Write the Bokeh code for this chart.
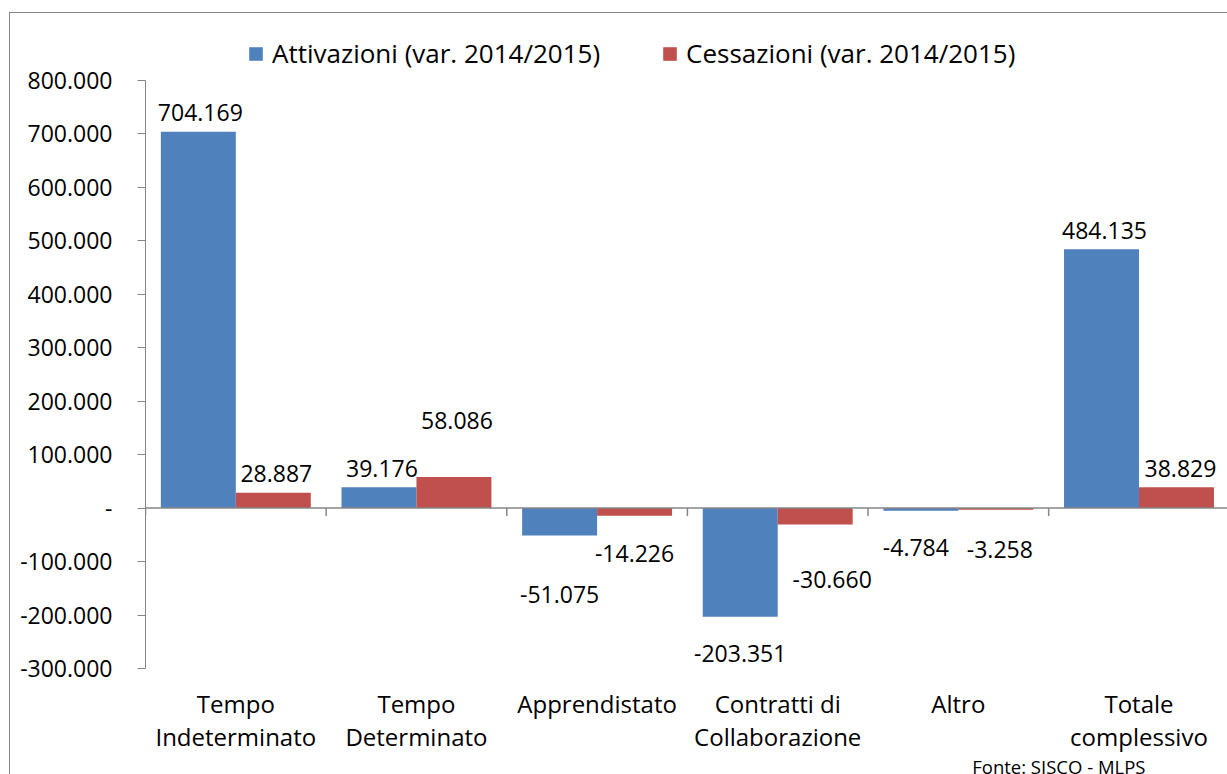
from bokeh.plotting import figure
from bokeh.models import (Range1d, FixedTicker, Legend, LegendItem, LinearAxis,
                          ColumnDataSource, Span, InlineStyleSheet, Title)
from bokeh.core.properties import value
from bokeh.transform import dodge
from bokeh.embed import file_html
from bokeh.resources import INLINE

# ---------------- data ----------------
categories = ["Tempo\nIndeterminato", "Tempo\nDeterminato", "Apprendistato",
              "Contratti di\nCollaborazione", "Altro", "Totale\ncomplessivo"]
attivazioni = [704169, 39176, -51075, -203351, -4784, 484135]
cessazioni = [28887, 58086, -14226, -30660, -3258, 38829]
series_names = ["Attivazioni (var. 2014/2015)", "Cessazioni (var. 2014/2015)"]
y_ticks = [-300000, -200000, -100000, 0, 100000, 200000, 300000, 400000,
           500000, 600000, 700000, 800000]
y_tick_labels = ["-300.000", "-200.000", "-100.000", "-", "100.000", "200.000",
                 "300.000", "400.000", "500.000", "600.000", "700.000", "800.000"]
source_note = "Fonte: SISCO - MLPS"

# ---------------- style ----------------
FONT = "Open Sans"
BLUE = "#4F81BD"
RED = "#C0504D"
GRAY = "#868686"

W, H = 1227, 774
FRAME_LEFT, FRAME_TOP, FRAME_BOTTOM = 145, 20, 669
AXIS_TOP = 80            # pixel row of the 800.000 tick
X_END = 5.99
Y0, Y1 = -300000, 800000
px_per_y = (FRAME_BOTTOM - AXIS_TOP) / (Y1 - Y0)
Y_END = Y1 + (AXIS_TOP - FRAME_TOP) / px_per_y

# data-label pixel nudges (screen px, y positive = down)
att_dx = [2, 3, 0, 0, -5, 3]
att_dy = [-19, -19, 59, 37, 37, -19]
ces_dx = [3, 3, 0, 17, 4, 4]
ces_dy = [-19, -57, 38, 55, 40, -19]


def fmt(v):
    s = f"{abs(v):,}".replace(",", ".")
    return ("-" if v < 0 else "") + s


xs = [i + 0.5 for i in range(len(categories))]
src = ColumnDataSource(dict(
    x=xs, att=attivazioni, ces=cessazioni,
    att_lbl=[fmt(v) for v in attivazioni], ces_lbl=[fmt(v) for v in cessazioni],
    att_dx=att_dx, att_dy=att_dy, ces_dx=ces_dx, ces_dy=ces_dy,
))

p = figure(width=W, height=H,
           x_range=Range1d(0, X_END), y_range=Range1d(Y0, Y_END),
           output_backend="svg", toolbar_location=None,
           x_axis_location=None, y_axis_location="left",
           min_border_left=FRAME_LEFT, min_border_right=0,
           min_border_top=FRAME_TOP, min_border_bottom=H - FRAME_BOTTOM)
p.xgrid.visible = False
p.ygrid.visible = False
p.outline_line_color = None
p.background_fill_color = "white"
p.border_fill_color = "white"
p.title.visible = False

# outer chart border (left and top edges, as in the clipped Excel chart)
p.stylesheets = [InlineStyleSheet(css="""
:host::after {
  content: "";
  position: absolute;
  left: 9px; top: 12px; right: -4px; bottom: 0px;
  border-left: 1.5px solid #868686;
  border-top: 1.5px solid #868686;
  pointer-events: none;
  z-index: 100;
}
""")]

# y axis (line limited to the tick range)
ya = p.yaxis[0]
ya.bounds = (Y0, Y1)
ya.ticker = FixedTicker(ticks=y_ticks)
ya.major_label_overrides = {t: l for t, l in zip(y_ticks, y_tick_labels)}
ya.major_label_text_font = FONT
ya.major_label_text_font_size = "23px"
ya.major_label_text_color = "black"
ya.axis_line_color = GRAY
ya.major_tick_line_color = GRAY
ya.major_tick_out = 8
ya.major_tick_in = 0
ya.minor_tick_out = 0
ya.minor_tick_in = 0
ya.major_label_standoff = 25

# category labels axis (bottom, no line)
cat_axis = LinearAxis(ticker=FixedTicker(ticks=xs),
                      major_label_overrides={x: c for x, c in zip(xs, categories)},
                      axis_line_color=None, major_tick_line_color=None,
                      major_tick_out=0, major_tick_in=0,
                      minor_tick_out=0, minor_tick_in=0,
                      major_label_standoff=18,
                      major_label_text_font=FONT,
                      major_label_text_font_size="24px",
                      major_label_text_line_height=1.0,
                      major_label_text_color="black")
p.add_layout(cat_axis, "below")

# source note under the category labels, right-aligned
note = Title(text=source_note, align="right", offset=82, standoff=-8,
             text_font=FONT, text_font_size="18.5px", text_font_style="normal",
             text_color="black", text_line_height=0.8)
p.add_layout(note, "below")

# zero line with category separator ticks
p.add_layout(Span(location=0, dimension="width", line_color=GRAY, line_width=1.5))
tick_len = 8 / px_per_y
bounds = list(range(len(categories) + 1))
p.segment(x0=bounds, x1=bounds, y0=[0] * len(bounds), y1=[-tick_len] * len(bounds),
          line_color=GRAY, line_width=1.5)

# bars
r1 = p.vbar(x=dodge("x", -0.2075, range=p.x_range), top="att", width=0.415,
            source=src, fill_color=BLUE, line_color=None)
r2 = p.vbar(x=dodge("x", 0.2075, range=p.x_range), top="ces", width=0.415,
            source=src, fill_color=RED, line_color=None)

# data labels
p.text(x=dodge("x", -0.2075, range=p.x_range), y="att", text="att_lbl",
       x_offset="att_dx", y_offset="att_dy", source=src,
       text_align="center", text_baseline="alphabetic",
       text_font=value(FONT), text_font_size="23px", text_color="black")
p.text(x=dodge("x", 0.2075, range=p.x_range), y="ces", text="ces_lbl",
       x_offset="ces_dx", y_offset="ces_dy", source=src,
       text_align="center", text_baseline="alphabetic",
       text_font=value(FONT), text_font_size="23px", text_color="black")

# legend (top of the chart, inside the enlarged frame)
legend = Legend(items=[LegendItem(label=series_names[0], renderers=[r1]),
                       LegendItem(label=series_names[1], renderers=[r2])],
                location=(247 - FRAME_LEFT, FRAME_BOTTOM - 54 - 18),
                orientation="horizontal",
                glyph_width=17, glyph_height=17, label_standoff=8, spacing=61,
                padding=0, margin=0, border_line_color=None,
                background_fill_alpha=0,
                label_text_font=FONT, label_text_font_size="26px",
                label_text_color="black")
p.add_layout(legend, "center")

open("out.html", "w").write(file_html(p, INLINE))
